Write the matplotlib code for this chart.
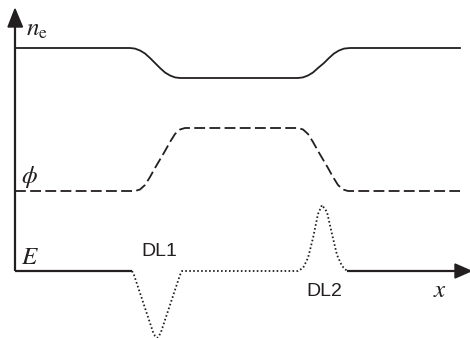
import numpy as np
import matplotlib.pyplot as plt
from matplotlib.patches import Polygon

plt.rcParams['mathtext.fontset'] = 'stix'

# curves (x in px, y in px from top)
ne_x = [15, 130, 135, 140, 145, 150, 155, 160, 165, 170, 175, 180,
        298, 303, 308, 313, 318, 324, 329, 334, 339, 344, 350, 460]
ne_y = [48, 48, 48.6, 50.5, 53.5, 58, 63, 68, 72.5, 75.5, 77.4, 78,
        78, 77.4, 75.5, 72.5, 68, 63, 58, 53.5, 50.5, 48.6, 48, 48]

phi_x = [15, 135, 140, 145, 150, 155, 160, 165, 170, 175, 180, 185,
         298, 303, 308, 313, 318, 323, 328, 333, 338, 343, 348, 460]
phi_y = [191, 191, 189.5, 185, 177, 168, 159.5, 151, 142, 134, 129.5, 128,
         128, 129.5, 134, 142, 151, 159.5, 168, 177, 185, 189.5, 191, 191]

E_x = [132, 134, 139, 144, 149, 153, 155, 157, 159, 161, 165, 170, 175, 180, 182,
       298, 303, 308, 313, 318, 322, 327, 332, 337, 342, 347]
E_y = [271, 275, 290, 305, 320, 332, 336, 338, 336, 332, 320, 305, 290, 275, 271,
       271, 268, 258, 238, 214, 205, 212, 234, 255, 266, 271]

axis_y = 271
axis_x = 15
ink = '#231f20'

fig = plt.figure(figsize=(4.7, 3.38), dpi=100)
ax = fig.add_axes([0, 0, 1, 1])
ax.set_xlim(0, 470)
ax.set_ylim(338, 0)
ax.axis('off')

# axes with arrowheads
ax.plot([axis_x, axis_x], [axis_y, 24], color=ink, lw=1.6, solid_capstyle='butt')
ax.add_patch(Polygon([[axis_x, 9], [8, 27], [22.5, 27]], closed=True, color=ink))
ax.plot([axis_x, E_x[0]], [axis_y, axis_y], color=ink, lw=1.6, solid_capstyle='butt')
ax.plot([E_x[-1], 458], [axis_y, axis_y], color=ink, lw=1.6, solid_capstyle='butt')
ax.add_patch(Polygon([[471, axis_y], [455, 264], [455, 278]], closed=True, color=ink))

# curves
ax.plot(ne_x, ne_y, color=ink, lw=1.3)
ax.plot(phi_x, phi_y, color=ink, lw=1.3, dashes=(6, 2.4))
ax.plot(E_x, E_y, color=ink, lw=1.3, linestyle=(0, (0.9, 1.3)))

# labels
ax.text(26, 36, r'$n_{\mathrm{e}}$', fontsize=18, color=ink)
ax.text(21, 183, r'$\phi$', fontsize=18, color=ink)
ax.text(21, 264, r'$E$', fontsize=18, color=ink)
ax.text(439.5, 290, r'$x$', fontsize=18, color=ink, ha='center', va='center')
ax.text(159, 251, 'DL1', fontsize=14, family='Liberation Sans',
        ha='center', va='center', color=ink)
ax.text(324, 292, 'DL2', fontsize=14, family='Liberation Sans',
        ha='center', va='center', color=ink)

fig.savefig('out.png', dpi=100)
